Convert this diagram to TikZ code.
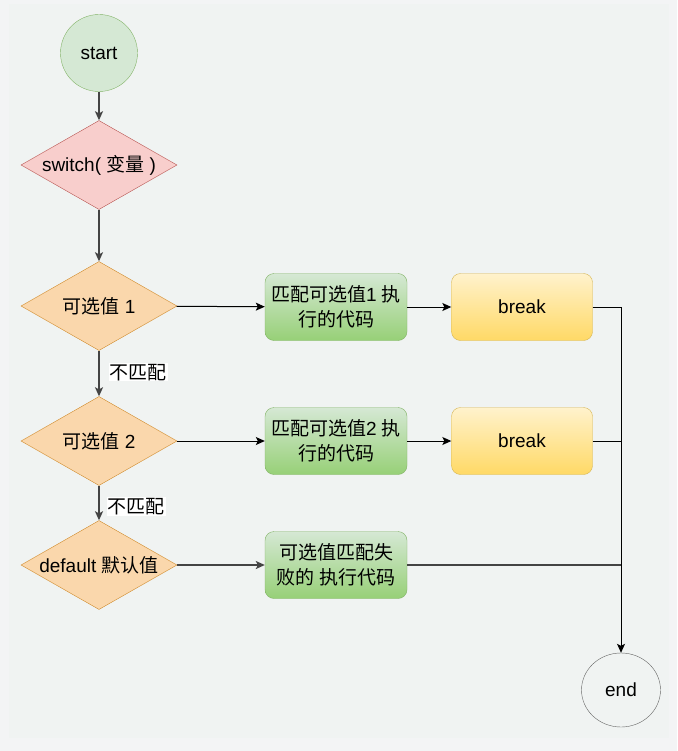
\documentclass[tikz,border=0pt]{standalone}
\usepackage{fontspec}
\setmainfont{Liberation Sans}
\newfontfamily\cjk{Noto Sans CJK SC}
\usetikzlibrary{shapes.geometric,arrows.meta}
\definecolor{bgout}{RGB}{243,244,245}
\definecolor{bgin}{RGB}{240,243,242}
\definecolor{gfill}{HTML}{D5E8D4}
\definecolor{gline}{HTML}{82B366}
\definecolor{gdark}{HTML}{97D077}
\definecolor{rfill}{HTML}{F8CECC}
\definecolor{rline}{HTML}{B85450}
\definecolor{ofill}{HTML}{FAD7AC}
\definecolor{oline}{HTML}{D08A2A}
\definecolor{ytop}{HTML}{FFF2CC}
\definecolor{ybot}{HTML}{FFD966}
\definecolor{yline}{HTML}{D6B656}
\definecolor{eline}{HTML}{666666}
\definecolor{flow}{HTML}{444444}
\tikzset{
  startnode/.style={circle, draw=gline, fill=gfill, minimum size=77pt, inner sep=0pt},
  endnode/.style={ellipse, draw=eline, fill=bgin, minimum width=79pt, minimum height=74pt, inner sep=0pt},
  decide/.style={diamond, draw=#1, minimum width=156pt, minimum height=89pt, inner sep=0pt},
  greenbox/.style={rectangle, rounded corners=9pt, draw=gline, top color=gfill, bottom color=gdark, minimum width=142pt, minimum height=67pt, inner sep=0pt, align=center},
  breakbox/.style={rectangle, rounded corners=9pt, draw=yline, top color=ytop, bottom color=ybot, minimum width=141pt, minimum height=67pt, inner sep=0pt},
  vflow/.style={draw=flow, line width=1.4pt, -{Stealth[length=9pt,width=8pt,inset=2pt]}},
  hflow/.style={draw=black, line width=1pt, -{Stealth[length=9pt,width=8pt,inset=2pt]}},
  hline/.style={draw=black, line width=1pt},
  lbl/.style={fill=white, inner sep=1pt, anchor=west}
}
\begin{document}
\begin{tikzpicture}[x=1pt, y=-1pt, font=\fontsize{19}{25}\selectfont]
\fill[bgout] (0,0) rectangle (677,751);
\fill[bgin] (9,4) rectangle (669,738);
\useasboundingbox (0,0) rectangle (677,751);

\node[startnode] (start) at (99,53) {start};
\node[decide=rline, fill=rfill] (sw) at (99,165) {\makebox[0pt]{switch( {\cjk 变量} )}};
\node[decide=oline, fill=ofill] (o1) at (99,306) {\makebox[0pt]{{\cjk 可选值} 1}};
\node[decide=oline, fill=ofill] (o2) at (99,441) {\makebox[0pt]{{\cjk 可选值} 2}};
\node[decide=oline, fill=ofill] (df) at (99,565) {\makebox[0pt]{default {\cjk 默认值}}};

\node[greenbox] (g1) at (336,307) {{\cjk 匹配可选值}1 {\cjk 执}\\{\cjk 行的代码}};
\node[greenbox] (g2) at (336,441) {{\cjk 匹配可选值}2 {\cjk 执}\\{\cjk 行的代码}};
\node[greenbox] (g3) at (336,565) {{\cjk 可选值匹配失}\\{\cjk 败的 执行代码}};

\node[breakbox] (b1) at (522,307) {break};
\node[breakbox] (b2) at (522,441) {break};

\node[endnode] (end) at (621,690) {end};

\coordinate (j1) at (621,307);
\coordinate (j2) at (621,441);
\coordinate (j3) at (621,565);

\draw[vflow] (start) -- (sw);
\draw[vflow] (sw) -- (o1);
\draw[vflow] (o1) -- node[lbl, pos=0.47, xshift=9pt] (l1) {\cjk 不匹配} (o2);
\draw[vflow] (o2) -- node[lbl, pos=0.6, xshift=7pt] (l2) {\cjk 不匹配} (df);

\draw[hflow] (o1) -- (g1);
\draw[hflow] (g1) -- (b1);
\draw[hflow] (o2) -- (g2);
\draw[hflow] (g2) -- (b2);
\draw[vflow] (df) -- (g3);

\draw[hflow] (b1.east) -- (j1) -- (end.north);
\draw[hline] (b2.east) -- (j2);
\draw[draw=flow, line width=1.4pt] (g3.east) -- (j3);
\end{tikzpicture}
\end{document}
